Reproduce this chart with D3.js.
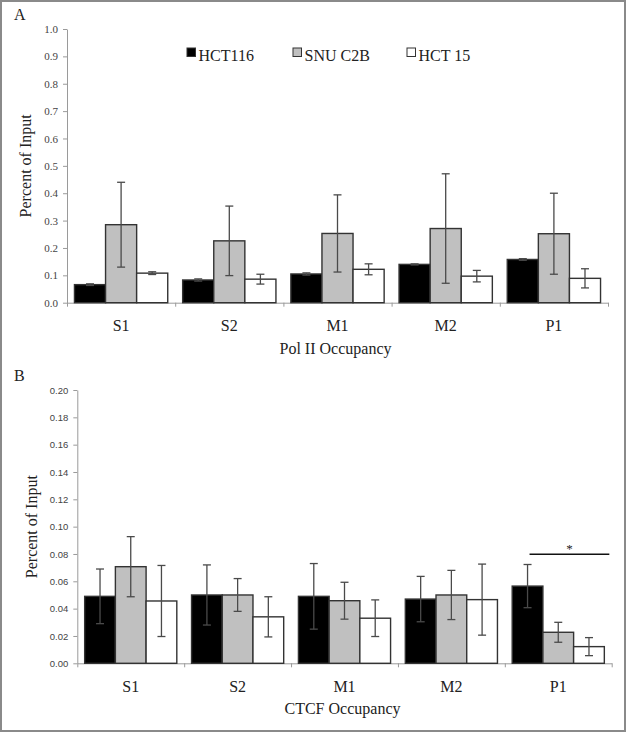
<!DOCTYPE html>
<html>
<head>
<meta charset="utf-8">
<script src="https://cdn.jsdelivr.net/npm/d3@7"></script>
<style>
  body { margin: 0; background: #fff; }
  svg { display: block; }
</style>
</head>
<body>
<svg id="chart" width="627" height="733"></svg>
<script>
// categories and series
var categories = ["S1", "S2", "M1", "M2", "P1"];
var series = ["HCT116", "SNU C2B", "HCT 15"];
var seriesFill = ["#000000", "#c0c0c0", "#ffffff"];

// panel A : Pol II occupancy
var polHct116 = [0.066, 0.083, 0.105, 0.140, 0.158];
var polHct116Err = [0.003, 0.004, 0.004, 0.002, 0.003];
var polSnu = [0.285, 0.226, 0.253, 0.271, 0.252];
var polSnuErr = [0.155, 0.127, 0.141, 0.200, 0.148];
var polHct15 = [0.108, 0.086, 0.122, 0.097, 0.089];
var polHct15Err = [0.005, 0.018, 0.020, 0.021, 0.035];
var polTicks = [0, 0.1, 0.2, 0.3, 0.4, 0.5, 0.6, 0.7, 0.8, 0.9, 1.0];

// panel B : CTCF occupancy
var ctcfHct116 = [0.049, 0.050, 0.049, 0.047, 0.0565];
var ctcfHct116Err = [0.020, 0.022, 0.024, 0.0166, 0.0158];
var ctcfSnu = [0.0707, 0.050, 0.0458, 0.050, 0.0227];
var ctcfSnuErr = [0.022, 0.012, 0.0135, 0.018, 0.0073];
var ctcfHct15 = [0.0456, 0.034, 0.033, 0.0466, 0.0122];
var ctcfHct15Err = [0.026, 0.0147, 0.0134, 0.026, 0.0066];
var ctcfTicks = [0, 0.02, 0.04, 0.06, 0.08, 0.10, 0.12, 0.14, 0.16, 0.18, 0.20];
var sigLevel = 0.0798;

var svg = d3.select("#chart");
var serif = "'Liberation Serif', 'Times New Roman', serif";
var sans = "'Liberation Sans', Arial, sans-serif";

// outer frame
svg.append("rect")
  .attr("x", 1).attr("y", 1).attr("width", 624).attr("height", 730)
  .attr("fill", "none").attr("stroke", "#8a8a8a").attr("stroke-width", 2);

function drawPanel(opt) {
  var g = svg.append("g");

  var x0 = d3.scaleBand().domain(categories).range([opt.left, opt.right]).paddingInner(0).paddingOuter(0);
  var x1 = d3.scaleBand().domain(series).range([0, x0.bandwidth()]).paddingOuter(0.24).paddingInner(0);
  var y = d3.scaleLinear().domain([0, opt.max]).range([opt.bottom, opt.top]);
  var xb = d3.scaleLinear().domain([0, categories.length]).range([opt.left, opt.right]);

  var rows = [];
  categories.forEach(function(c, i) {
    series.forEach(function(s, j) {
      rows.push({cat: c, ser: s, idx: j, v: opt.values[j][i], e: opt.errors[j][i]});
    });
  });

  // y axis
  var yAxis = g.append("g")
    .attr("transform", "translate(" + opt.left + ",0)")
    .call(d3.axisLeft(y).tickValues(opt.ticks).tickFormat(d3.format(opt.fmt)).tickSize(4).tickSizeOuter(0));
  yAxis.select(".domain").attr("stroke", "#9a9a9a");
  yAxis.selectAll(".tick line").attr("stroke", "#9a9a9a");
  yAxis.selectAll("text")
    .style("font-family", opt.tickFont).style("font-size", opt.tickSize + "px")
    .attr("fill", "#444").attr("x", -9);

  // x axis: boundary ticks
  var xTickAxis = g.append("g")
    .attr("transform", "translate(0," + opt.bottom + ")")
    .call(d3.axisBottom(xb).ticks(categories.length).tickFormat("").tickSize(4).tickSizeOuter(0));
  xTickAxis.select(".domain").attr("stroke", "#9a9a9a");
  xTickAxis.selectAll(".tick line").attr("stroke", "#9a9a9a");

  // x axis: category labels
  var xLab = g.append("g")
    .attr("transform", "translate(0," + opt.bottom + ")")
    .call(d3.axisBottom(x0).tickSize(0).tickPadding(17));
  xLab.select(".domain").remove();
  xLab.selectAll("text").style("font-family", serif).style("font-size", "16px").attr("fill", "#222");

  // bars
  g.append("g").selectAll("rect")
    .data(rows)
    .enter().append("rect")
    .attr("x", function(d) { return x0(d.cat) + x1(d.ser); })
    .attr("y", function(d) { return y(d.v); })
    .attr("width", x1.bandwidth())
    .attr("height", function(d) { return y(0) - y(d.v); })
    .attr("fill", function(d) { return seriesFill[d.idx]; })
    .attr("stroke", "#333")
    .attr("stroke-width", 1.4);

  // error bars
  var eb = g.append("g").selectAll("g")
    .data(rows.filter(function(d) { return d.e > 0; }))
    .enter().append("g")
    .attr("stroke", "#4a4a4a")
    .attr("stroke-width", 1.3);
  function cx(d) { return x0(d.cat) + x1(d.ser) + x1.bandwidth() / 2; }
  eb.append("line")
    .attr("x1", cx).attr("x2", cx)
    .attr("y1", function(d) { return y(d.v + d.e); })
    .attr("y2", function(d) { return y(d.v - d.e); });
  eb.append("line")
    .attr("x1", function(d) { return cx(d) - 4; }).attr("x2", function(d) { return cx(d) + 4; })
    .attr("y1", function(d) { return y(d.v + d.e); }).attr("y2", function(d) { return y(d.v + d.e); });
  eb.append("line")
    .attr("x1", function(d) { return cx(d) - 4; }).attr("x2", function(d) { return cx(d) + 4; })
    .attr("y1", function(d) { return y(d.v - d.e); }).attr("y2", function(d) { return y(d.v - d.e); });

  // titles
  g.append("text")
    .attr("x", 14).attr("y", opt.top - 9)
    .style("font-family", serif).style("font-size", "16px").attr("fill", "#222")
    .text(opt.letter);
  g.append("text")
    .attr("transform", "translate(" + opt.yTitleX + "," + ((opt.top + opt.bottom) / 2) + ") rotate(-90)")
    .attr("text-anchor", "middle")
    .style("font-family", serif).style("font-size", "16px").attr("fill", "#222")
    .text("Percent of Input");
  g.append("text")
    .attr("x", (opt.left + opt.right) / 2 - 2).attr("y", opt.bottom + 51)
    .attr("text-anchor", "middle")
    .style("font-family", serif).style("font-size", "16px").attr("fill", "#222")
    .text(opt.xTitle);

  return {g: g, x0: x0, x1: x1, y: y};
}

var panelA = drawPanel({
  left: 67, right: 608, top: 29, bottom: 302.7, max: 1.0,
  values: [polHct116, polSnu, polHct15],
  errors: [polHct116Err, polSnuErr, polHct15Err],
  ticks: polTicks, fmt: ".1f", tickFont: serif, tickSize: 11,
  letter: "A", xTitle: "Pol II Occupancy", yTitleX: 31
});

var panelB = drawPanel({
  left: 77.3, right: 611.7, top: 390, bottom: 663.3, max: 0.2,
  values: [ctcfHct116, ctcfSnu, ctcfHct15],
  errors: [ctcfHct116Err, ctcfSnuErr, ctcfHct15Err],
  ticks: ctcfTicks, fmt: ".2f", tickFont: sans, tickSize: 9.5,
  letter: "B", xTitle: "CTCF Occupancy", yTitleX: 37
});

// legend (panel A)
var legendX = [187, 293, 407];
var legend = panelA.g.append("g").selectAll("g")
  .data(series)
  .enter().append("g")
  .attr("transform", function(d, i) { return "translate(" + legendX[i] + ",48)"; });
legend.append("rect")
  .attr("width", 8.5).attr("height", 8.5)
  .attr("fill", function(d, i) { return seriesFill[i]; })
  .attr("stroke", "#333").attr("stroke-width", 1);
legend.append("text")
  .attr("x", 11.5).attr("y", 13)
  .style("font-family", serif).style("font-size", "16px").attr("fill", "#222")
  .text(function(d) { return d; });

// significance marker (panel B, P1: HCT116 vs HCT 15)
var bx0 = panelB.x0("P1");
var sigStart = bx0 + panelB.x1("HCT116") + panelB.x1.bandwidth() / 2 + 2;
var sigEnd = bx0 + panelB.x1("HCT 15") + panelB.x1.bandwidth() + 5;
panelB.g.append("line")
  .attr("x1", sigStart).attr("x2", sigEnd)
  .attr("y1", panelB.y(sigLevel)).attr("y2", panelB.y(sigLevel))
  .attr("stroke", "#111").attr("stroke-width", 1.4);
panelB.g.append("text")
  .attr("x", (sigStart + sigEnd) / 2).attr("y", panelB.y(sigLevel) - 1)
  .attr("text-anchor", "middle")
  .style("font-family", serif).style("font-size", "13px").attr("fill", "#222")
  .text("*");
</script>
</body>
</html>
